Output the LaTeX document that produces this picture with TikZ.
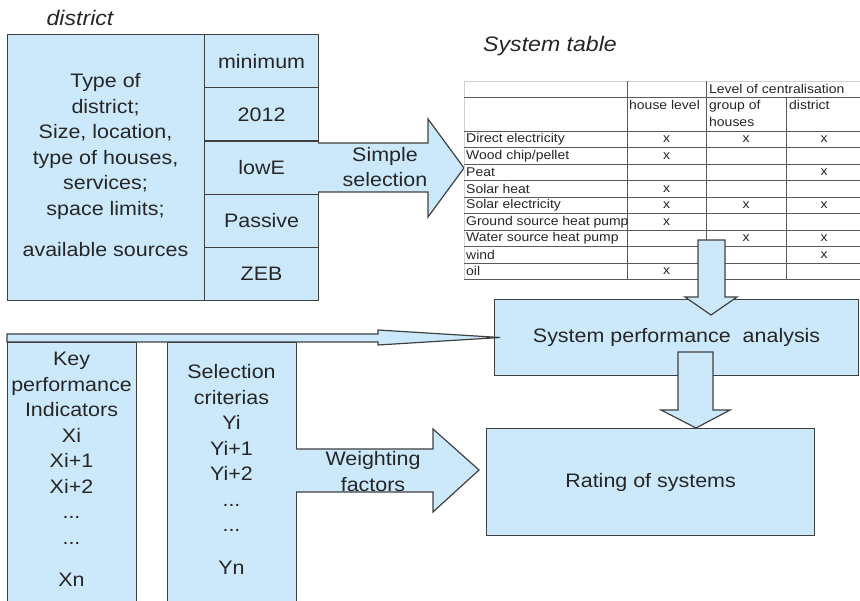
\documentclass[tikz,border=0pt]{standalone}
\usepackage{fontspec}
\setmainfont{Liberation Sans}[FakeStretch=1.1]
\definecolor{paleblue}{HTML}{CCE9FB}
\definecolor{boxedge}{HTML}{404040}
\definecolor{ink}{HTML}{262626}
\definecolor{tabline}{HTML}{5A5A5A}
\tikzset{
  box/.style={draw=boxedge, fill=paleblue, line width=1.2pt, inner sep=0pt, anchor=north west},
  blockarrow/.style={draw=boxedge, fill=paleblue, line width=1.2pt, line join=miter},
  big/.style={font=\fontsize{19.5}{25.5}\selectfont, text=ink, align=center},
  caption/.style={font=\fontsize{21}{24}\selectfont\itshape, text=ink},
  tab/.style={font=\fontsize{12.7}{16.5}\selectfont, text=ink, inner sep=0pt},
  tabrule/.style={draw=tabline, line width=0.9pt}
}

\begin{document}
\begin{tikzpicture}[x=1pt, y=-1pt]
  \useasboundingbox (0,0) rectangle (860,601);
  \clip (0,0) rectangle (860,601);

  % district description and energy levels
  \node[caption] (distcap) at (80,18) {district};
  \node[box, minimum width=197, minimum height=266] (dist) at (7,34) {};
  \node[big] (disttxt) at (105.5,165.5)
    {Type of\\district;\\Size, location,\\type of houses,\\services;\\space limits;\\[16pt]available sources};
  \foreach \t [count=\i] in {minimum,2012,lowE,Passive,ZEB}
    \node[box, big, minimum width=114, minimum height=53.2] (lvl\i) at (204,{34+53.2*(\i-1)}) {\t};

  \draw[blockarrow] (318,143) -- (428,143) -- (428,119) -- (464,168) -- (428,217) -- (428,192) -- (318,192);
  \node[big] (simple) at (385,167) {Simple\\selection};

  % system table
  \node[caption] (tabcap) at (550,46) {System table};
  \draw[gray!35, line width=0.9pt] (464,279.5) -- (464,81) -- (860,81);
  \draw[tabrule] (464,97) -- (860,97);
  \foreach \k in {0,...,9}
    \draw[tabrule] (464,{131+16.5*\k}) -- (860,{131+16.5*\k});
  \draw[tabrule] (627,81) -- (627,279.5);
  \draw[tabrule] (706,81) -- (706,279.5);
  \draw[tabrule] (786,97) -- (786,279.5);

  \node[tab, anchor=north west] (level) at (709,84.5) {Level of centralisation};
  \node[tab, anchor=north west] (hhouse) at (629,100.5) {house level};
  \node[tab, anchor=north west, align=left] (hgroup) at (709,100.5) {group of\\houses};
  \node[tab, anchor=north west] (hdist) at (789,100.5) {district};
  \coordinate (colh) at (666.5,0);
  \coordinate (colg) at (746,0);
  \coordinate (cold) at (824,0);

  \foreach \r [count=\k] in {Direct electricity, Wood chip/pellet, Peat, Solar heat, Solar electricity,
      Ground source heat pump, Water source heat pump, wind, oil}
    \node[tab, anchor=west] (row\k) at (466,{122.75+16.5*\k}) {\r};
  \foreach \k/\c in {1/h,1/g,1/d,2/h,3/d,4/h,5/h,5/g,5/d,6/h,7/g,7/d,8/d,9/h}
    \node[tab] (x\k\c) at (col\c |- row\k.west) {x};

  % analysis and rating
  \node[box, big, minimum width=364, minimum height=76] (spa) at (494,299) {System performance~ analysis};
  \draw[blockarrow] (698,240) -- (725,240) -- (725,297) -- (737,297) -- (711,315) -- (685,297) -- (698,297) -- cycle;
  \node[box, big, minimum width=328, minimum height=107] (rate) at (486,428) {Rating of systems};
  \draw[blockarrow] (678,352) -- (713,352) -- (713,410) -- (730,410) -- (696,428) -- (661,410) -- (678,410) -- cycle;

  % indicators and criteria
  \node[box, minimum width=129, minimum height=280] (kpi) at (7,342) {};
  \node[box, minimum width=129, minimum height=280] (crit) at (167,342) {};
  \node[big] (kpitxt) at (71.5,469.5)
    {Key\\performance\\Indicators\\Xi\\Xi+1\\Xi+2\\...\\...\\[17pt]Xn};
  \node[big] (crittxt) at (231.5,469.5)
    {Selection\\criterias\\Yi\\Yi+1\\Yi+2\\...\\...\\[17pt]Yn};
  \draw[blockarrow] (7,334) -- (378,334) -- (378,330) -- (500,337.5) -- (378,345) -- (378,342) -- (7,342) -- cycle;

  \draw[blockarrow] (296,449) -- (433,449) -- (433,429) -- (479,470) -- (433,512) -- (433,492) -- (296,492);
  \node[big] (weight) at (373,471.5) {Weighting\\factors};
\end{tikzpicture}
\end{document}
